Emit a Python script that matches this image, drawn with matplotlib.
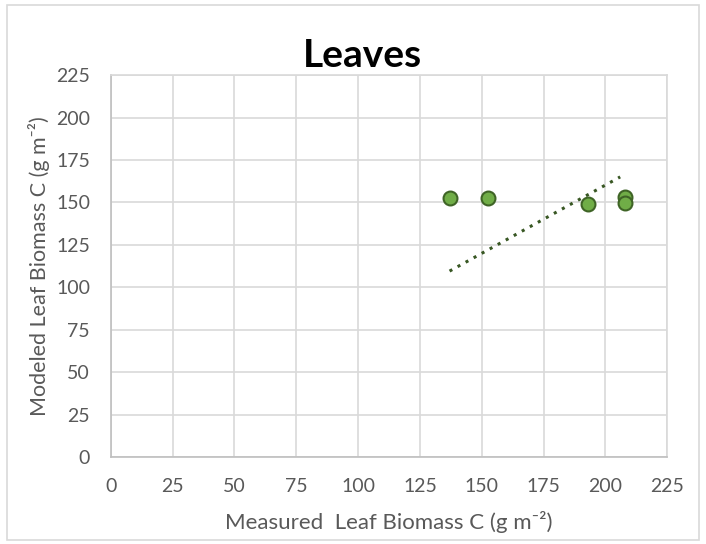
import matplotlib
matplotlib.use("Agg")
import matplotlib.pyplot as plt
from matplotlib.patches import Rectangle

# measured vs modeled leaf biomass C (g m-2)
measured = [137, 152.5, 193, 208, 208]
modeled = [152.5, 152.5, 149, 153, 149.5]

# trendline end points as drawn in the original
trend_x = [137, 206]
trend_y = [109.5, 165]

ticks = [0, 25, 50, 75, 100, 125, 150, 175, 200, 225]

plt.rcParams['font.family'] = ['Lato', 'DejaVu Sans']

fig = plt.figure(figsize=(7.06, 5.44), dpi=100)
ax = fig.add_axes([0.157, 0.160, 0.788, 0.702])

ax.plot(trend_x, trend_y, linestyle=(0, (1, 2)), color='#385723', linewidth=2.2, zorder=2)
ax.plot(measured, modeled, 'o', markersize=10, markerfacecolor='#70AD47',
        markeredgecolor='#3F6426', markeredgewidth=1.5, zorder=3)

ax.set_xlim(0, 225)
ax.set_ylim(0, 225)
ax.set_xticks(ticks)
ax.set_yticks(ticks)
ax.grid(True, color='#D9D9D9', linewidth=1.2)
ax.set_axisbelow(True)
for s in ax.spines.values():
    s.set_color('#D9D9D9')
    s.set_linewidth(1.2)
ax.spines['left'].set_color('#BFBFBF')
ax.spines['bottom'].set_color('#BFBFBF')
ax.tick_params(length=0, labelsize=14, colors='#595959')
ax.tick_params(axis='x', pad=15)
ax.tick_params(axis='y', pad=15)

ax.set_xlabel('Measured  Leaf Biomass C (g m\u207b\u00b2)', fontsize=16, color='#595959', labelpad=12)
ax.set_ylabel('Modeled Leaf Biomass C (g m\u207b\u00b2)', fontsize=15.5, color='#595959', labelpad=4)
fig.text(0.513, 0.877, 'Leaves', ha='center', va='baseline', fontsize=28, fontweight='bold', color='black')

fig.patches.append(Rectangle((0.010, 0.007), 0.980, 0.983, transform=fig.transFigure,
                             fill=False, edgecolor='#D9D9D9', linewidth=1.2))

fig.savefig('out.png', dpi=100)
